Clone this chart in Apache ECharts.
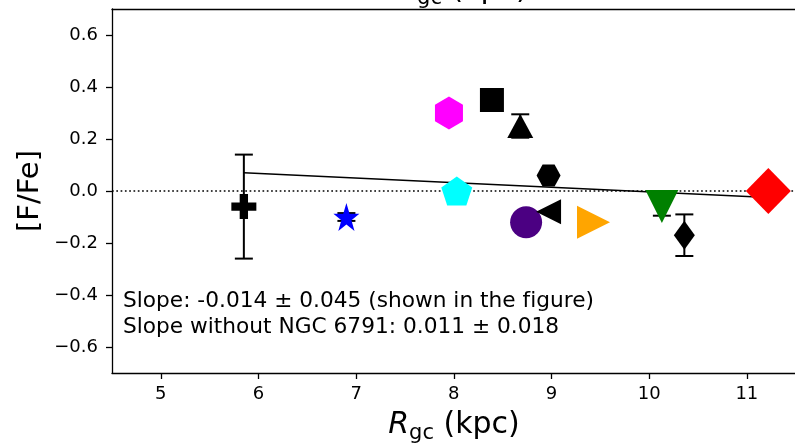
<!DOCTYPE html>
<html><head><meta charset="utf-8">
<script src="https://cdn.jsdelivr.net/npm/echarts@6/dist/echarts.min.js"></script>
<style>html,body{margin:0;padding:0;background:#fff}#chart{width:795px;height:447px}</style>
</head><body><div id="chart"></div>
<script>
// Galactocentric radius (kpc) of each cluster
const rgc = [5.85, 6.90, 7.95, 8.03, 8.39, 8.68, 8.97, 8.74, 8.97, 9.43, 10.13, 10.36, 11.22];
// [F/Fe] abundance ratio
const fFe = [-0.06, -0.10, 0.30, 0.00, 0.35, 0.25, 0.06, -0.12, -0.08, -0.12, -0.06, -0.17, 0.00];
// uncertainty on [F/Fe] (0 = no error bar)
const fFeErr = [0.20, 0.015, 0, 0, 0, 0.045, 0, 0, 0, 0, 0.035, 0.08, 0];
// linear fit end points
const fitX = [5.85, 11.22];
const fitY = [0.070, -0.025];
// axis ticks
const xTicks = [5, 6, 7, 8, 9, 10, 11];
const yTicks = [-0.6, -0.4, -0.2, 0, 0.2, 0.4, 0.6];

// marker shapes per cluster
const P_PLUS = 'path://M1,0H2V1H3V2H2V3H1V2H0V1H1Z';
const P_STAR = 'path://M50,0L61.8,35.5L99,35.5L69,57.5L80.5,93L50,71L19.5,93L31,57.5L1,35.5L38.2,35.5Z';
const P_HEX_V = 'path://M50,0L93.3,25L93.3,75L50,100L6.7,75L6.7,25Z';
const P_HEX_H = 'path://M0,50L25,6.7L75,6.7L100,50L75,93.3L25,93.3Z';
const P_PENT = 'path://M50,0L97.6,34.5L79.4,90.5L20.6,90.5L2.4,34.5Z';
const P_LEFT = 'path://M0,5L10,0L10,10Z';
const P_RIGHT = 'path://M0,0L10,5L0,10Z';
const P_DOWN = 'path://M0,0L10,0L5,10Z';
const symbols = [P_PLUS, P_STAR, P_HEX_V, P_PENT, 'rect', 'triangle', P_HEX_H, 'circle', P_LEFT, P_RIGHT, P_DOWN, 'diamond', 'diamond'];
const sizes = [25, [26, 28], [28, 33], [31, 29], 24, [26, 24], [24, 22], 32, [25, 25], [33, 33], [33, 33], [21, 29], [45, 46]];
const colors = ['#000000', '#0000ff', '#ff00ff', '#00ffff', '#000000', '#000000', '#000000', '#4b0082', '#000000', '#ffa500', '#008000', '#000000', '#ff0000'];

const FONT = 'DejaVu Sans';
const X_MIN = 4.5, X_MAX = 11.493, Y_MIN = -0.7, Y_MAX = 0.7;
const minus = v => String(v).replace('-', '\u2212');
const fmtY = v => minus((Math.round(v * 10) / 10).toFixed(1));

const points = rgc.map((x, i) => ({
  value: [x, fFe[i]],
  symbol: symbols[i],
  symbolSize: sizes[i],
  itemStyle: { color: colors[i], opacity: 1 }
}));
const errData = rgc.map((x, i) => [x, fFe[i], fFeErr[i]]).filter(d => d[2] > 0);

const chart = echarts.init(document.getElementById('chart'), null, { renderer: 'canvas' });
const labelRich = {
  it: { fontFamily: FONT, fontStyle: 'italic', fontSize: 30, lineHeight: 38, verticalAlign: 'middle', color: '#000' },
  sub: { fontFamily: FONT, fontSize: 21, lineHeight: 26, verticalAlign: 'bottom', color: '#000' },
  n: { fontFamily: FONT, fontSize: 30, lineHeight: 38, verticalAlign: 'middle', color: '#000' }
};
const axisLineStyle = { color: '#000', width: 1.3 };
chart.setOption({
  animation: false,
  backgroundColor: '#fff',
  grid: { left: 112, right: 0, top: 9, bottom: 74 },
  xAxis: [{
    type: 'value', min: X_MIN, max: X_MAX,
    axisLine: { show: true, onZero: false, lineStyle: axisLineStyle },
    axisTick: { show: true, customValues: xTicks, length: 6, lineStyle: axisLineStyle },
    axisLabel: { customValues: xTicks, color: '#000', fontFamily: FONT, fontSize: 18, margin: 12 },
    splitLine: { show: false }
  }, {
    type: 'value', position: 'top', min: X_MIN, max: X_MAX,
    axisLine: { show: true, onZero: false, lineStyle: axisLineStyle },
    axisTick: { show: false }, axisLabel: { show: false }, splitLine: { show: false }
  }],
  yAxis: {
    type: 'value', min: Y_MIN, max: Y_MAX,
    axisLine: { show: true, onZero: false, lineStyle: axisLineStyle },
    axisTick: { show: true, customValues: yTicks, length: 6, lineStyle: axisLineStyle },
    axisLabel: { customValues: yTicks, formatter: fmtY, color: '#000', fontFamily: FONT, fontSize: 18, margin: 14 },
    splitLine: { show: false }
  },
  graphic: [
    { type: 'text', x: 30, y: 191, rotation: Math.PI / 2, style: { text: '[F/Fe]', fontFamily: FONT, fontSize: 29, fill: '#000', align: 'center', verticalAlign: 'middle', textAlign: 'center', textVerticalAlign: 'middle' } },
    { type: 'text', x: 454, y: 425, style: { text: '{it|R}{sub|gc}{n| (kpc)}', rich: labelRich, align: 'center', verticalAlign: 'middle', textAlign: 'center', textVerticalAlign: 'middle' } },
    { type: 'text', x: 462, y: -10, style: { text: '{it|R}{sub|gc}{n| (kpc)}', rich: labelRich, align: 'center', verticalAlign: 'middle', textAlign: 'center', textVerticalAlign: 'middle' } },
    { type: 'text', x: 123, y: 289, style: { text: 'Slope: -0.014 \u00b1 0.045 (shown in the f\u200Cigure)\nSlope without NGC 6791: 0.011 \u00b1 0.018', fontFamily: FONT, fontSize: 21.7, lineHeight: 25.5, fill: '#000', align: 'left', verticalAlign: 'top', textAlign: 'left', textVerticalAlign: 'top' } }
  ],
  series: [
    {
      type: 'line', z: 1, silent: true, symbol: 'none',
      data: [[X_MIN, 0], [X_MAX, 0]],
      lineStyle: { color: '#000', width: 1.7, type: [1.7, 2.6] }
    },
    {
      type: 'line', z: 2, silent: true, symbol: 'none',
      data: fitX.map((x, i) => [x, fitY[i]]),
      lineStyle: { color: '#000', width: 1.5 }
    },
    {
      type: 'custom', z: 3, silent: true,
      data: errData,
      renderItem(params, api) {
        const x = api.value(0), y = api.value(1), e = api.value(2);
        const hi = api.coord([x, y + e]), lo = api.coord([x, y - e]);
        const cap = 9;
        const st = { stroke: '#000', lineWidth: 2 };
        return {
          type: 'group', children: [
            { type: 'line', shape: { x1: hi[0], y1: hi[1], x2: lo[0], y2: lo[1] }, style: st },
            { type: 'line', shape: { x1: hi[0] - cap, y1: hi[1], x2: hi[0] + cap, y2: hi[1] }, style: st },
            { type: 'line', shape: { x1: lo[0] - cap, y1: lo[1], x2: lo[0] + cap, y2: lo[1] }, style: st }
          ]
        };
      }
    },
    {
      type: 'scatter', z: 4, silent: true,
      data: points
    }
  ]
});
</script>
</body></html>
